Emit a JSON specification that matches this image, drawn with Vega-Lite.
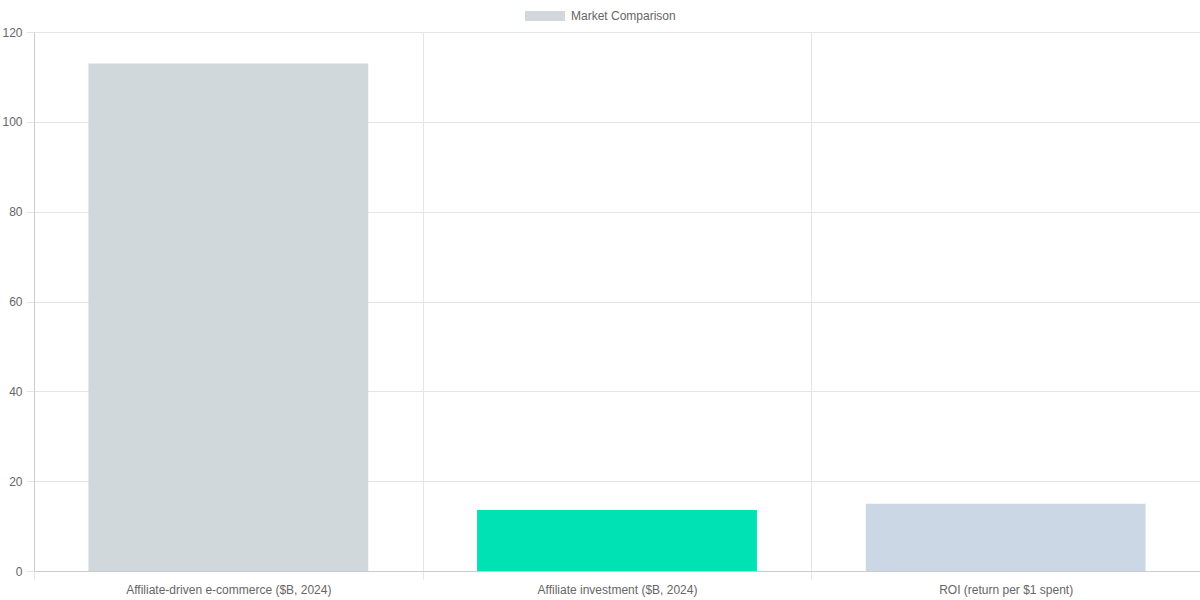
{
  "$schema": "https://vega.github.io/schema/vega-lite/v6.json",
  "autosize": {"type": "none"},
  "padding": {"left": 34, "top": 32, "right": 0, "bottom": 29},
  "width": 1166,
  "height": 539,
  "background": "white",
  "config": {
    "view": {"stroke": null},
    "font": "Liberation Sans",
    "axis": {
      "labelFont": "Liberation Sans",
      "labelFontSize": 12,
      "labelColor": "#666666",
      "labelLimit": 0,
      "gridColor": "#e5e5e5",
      "gridWidth": 1,
      "tickColor": "#e5e5e5",
      "domainColor": "#cccccc",
      "title": null
    }
  },
  "data": {
    "values": [
      {"metric": "Affiliate-driven e-commerce ($B, 2024)", "value": 113, "series": "Market Comparison"},
      {"metric": "Affiliate investment ($B, 2024)", "value": 13.6, "series": "Market Comparison"},
      {"metric": "ROI (return per $1 spent)", "value": 15, "series": "Market Comparison"}
    ]
  },
  "mark": {"type": "bar", "width": {"band": 0.72}},
  "encoding": {
    "x": {
      "field": "metric",
      "type": "nominal",
      "sort": null,
      "scale": {"paddingInner": 0, "paddingOuter": 0},
      "axis": {
        "labelAngle": 0,
        "tickBand": "extent",
        "grid": true,
        "tickSize": 8,
        "labelPadding": 5
      }
    },
    "y": {
      "field": "value",
      "type": "quantitative",
      "scale": {"domain": [0, 120], "nice": false},
      "axis": {
        "values": [0, 20, 40, 60, 80, 100, 120],
        "tickSize": 8,
        "labelPadding": 4,
        "grid": true
      }
    },
    "fill": {
      "field": "metric",
      "type": "nominal",
      "sort": null,
      "scale": {"range": ["#d0d8db", "#00e1b4", "#cbd7e5"]},
      "legend": null
    },
    "opacity": {
      "field": "series",
      "type": "nominal",
      "scale": {"range": [1]},
      "title": null,
      "legend": {
        "orient": "none",
        "legendX": 491,
        "legendY": -36,
        "symbolType": "M-1,-0.25H1V0.25H-1Z",
        "symbolSize": 1600,
        "symbolStrokeWidth": 0,
        "symbolFillColor": "#d0d8db",
        "symbolStrokeColor": "#d0d8db",
        "labelFont": "Liberation Sans",
        "labelFontSize": 12,
        "labelColor": "#666666",
        "labelOffset": 6,
        "encode": {
          "symbols": {
            "enter": {"fill": {"value": "#d0d8db"}},
            "update": {"fill": {"value": "#d0d8db"}, "opacity": {"value": 1}}
          }
        }
      }
    }
  }
}
